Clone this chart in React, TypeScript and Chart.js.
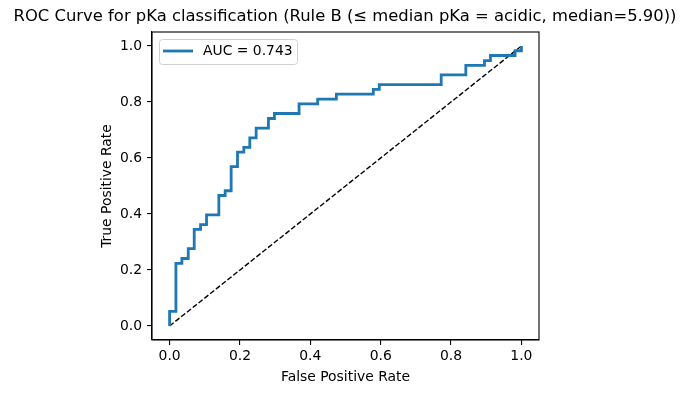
import React, { useEffect, useRef } from "react";
import { Chart, registerables } from "chart.js";

Chart.register(...registerables);

const TITLE = "ROC Curve for pKa classification (Rule B (≤ median pKa = acidic, median=5.90))";
const X_LABEL = "False Positive Rate";
const Y_LABEL = "True Positive Rate";
const LEGEND_LABEL = "AUC = 0.743";
const TICKS = [0, 0.2, 0.4, 0.6, 0.8, 1.0];

// ROC curve vertices
const fpr = [
  0, 0, 0.018, 0.018, 0.035, 0.035, 0.053, 0.053, 0.07, 0.07, 0.088, 0.088, 0.105, 0.105,
  0.14, 0.14, 0.158, 0.158, 0.175, 0.175, 0.193, 0.193, 0.211, 0.211, 0.228, 0.228, 0.246, 0.246,
  0.281, 0.281, 0.298, 0.298, 0.368, 0.368, 0.421, 0.421, 0.474, 0.474, 0.579, 0.579, 0.596, 0.596,
  0.772, 0.772, 0.842, 0.842, 0.895, 0.895, 0.912, 0.912, 0.982, 0.982, 1.0, 1.0,
];
const tpr = [
  0, 0.052, 0.052, 0.224, 0.224, 0.241, 0.241, 0.276, 0.276, 0.345, 0.345, 0.362, 0.362, 0.397,
  0.397, 0.466, 0.466, 0.483, 0.483, 0.569, 0.569, 0.621, 0.621, 0.638, 0.638, 0.672, 0.672, 0.707,
  0.707, 0.741, 0.741, 0.759, 0.759, 0.793, 0.793, 0.81, 0.81, 0.828, 0.828, 0.845, 0.845, 0.862,
  0.862, 0.897, 0.897, 0.931, 0.931, 0.948, 0.948, 0.966, 0.966, 0.983, 0.983, 1.0,
];
const diagX = [0, 1];
const diagY = [0, 1];

const FONT = "'DejaVu Sans', sans-serif";
const BLUE = "#1f77b4";
const SMALL = 13.9;

const decorPlugin = {
  id: "decor",
  afterDraw(chart: any) {
    const { ctx, chartArea } = chart;
    const { left, right, top, bottom } = chartArea;
    ctx.save();
    // frame
    ctx.strokeStyle = "#000";
    ctx.lineWidth = 1.1;
    ctx.strokeRect(left, top, right - left, bottom - top);
    // title
    ctx.fillStyle = "#000";
    ctx.font = `16.4px ${FONT}`;
    ctx.textAlign = "center";
    ctx.textBaseline = "middle";
    ctx.fillText(TITLE, 345, 17);
    // axis titles
    ctx.font = `${SMALL}px ${FONT}`;
    ctx.fillText(X_LABEL, (left + right) / 2, 377);
    ctx.save();
    ctx.translate(107, (top + bottom) / 2);
    ctx.rotate(-Math.PI / 2);
    ctx.fillText(Y_LABEL, 0, 0);
    ctx.restore();
    // legend
    const lx = 159.5, ly = 39.5, lw = 138, lh = 25, r = 3;
    ctx.beginPath();
    ctx.moveTo(lx + r, ly);
    ctx.lineTo(lx + lw - r, ly);
    ctx.quadraticCurveTo(lx + lw, ly, lx + lw, ly + r);
    ctx.lineTo(lx + lw, ly + lh - r);
    ctx.quadraticCurveTo(lx + lw, ly + lh, lx + lw - r, ly + lh);
    ctx.lineTo(lx + r, ly + lh);
    ctx.quadraticCurveTo(lx, ly + lh, lx, ly + lh - r);
    ctx.lineTo(lx, ly + r);
    ctx.quadraticCurveTo(lx, ly, lx + r, ly);
    ctx.closePath();
    ctx.fillStyle = "rgba(255,255,255,0.8)";
    ctx.fill();
    ctx.strokeStyle = "#d0d0d0";
    ctx.lineWidth = 1;
    ctx.stroke();
    ctx.beginPath();
    ctx.strokeStyle = BLUE;
    ctx.lineWidth = 2.8;
    ctx.moveTo(163, 51);
    ctx.lineTo(193, 51);
    ctx.stroke();
    ctx.fillStyle = "#000";
    ctx.textAlign = "left";
    ctx.font = `13.9px ${FONT}`;
    ctx.fillText(LEGEND_LABEL, 203, 51.5);
    ctx.restore();
  },
};

export default function App() {
  const ref = useRef<HTMLCanvasElement>(null);
  useEffect(() => {
    if (!ref.current) return;
    const setTicks = (axis: any) => {
      axis.ticks = TICKS.map((v) => ({ value: v }));
    };
    const chart = new Chart(ref.current, {
      type: "line",
      data: {
        datasets: [
          {
            label: LEGEND_LABEL,
            data: fpr.map((x, i) => ({ x, y: tpr[i] })),
            borderColor: BLUE,
            borderWidth: 2.8,
            pointRadius: 0,
            fill: false,
            tension: 0,
            borderJoinStyle: "miter",
          },
          {
            label: "chance",
            data: diagX.map((x, i) => ({ x, y: diagY[i] })),
            borderColor: "#000",
            borderWidth: 1.4,
            borderDash: [5.2, 2.2],
            pointRadius: 0,
            fill: false,
          },
        ],
      },
      options: {
        responsive: false,
        animation: false,
        layout: { padding: { top: 32, right: 151, bottom: 0, left: 0 } },
        plugins: { legend: { display: false }, tooltip: { enabled: false }, title: { display: false } },
        scales: {
          x: {
            type: "linear",
            min: -0.05,
            max: 1.05,
            afterBuildTicks: setTicks,
            afterFit: (a: any) => {
              a.height = 53;
            },
            grid: { drawOnChartArea: false, drawTicks: true, tickLength: 5, color: "#000", lineWidth: 1.1 },
            border: { display: true, color: "#000", width: 1.1 },
            ticks: {
              color: "#000",
              font: { family: FONT, size: SMALL },
              padding: 3,
              maxRotation: 0,
              callback: (v: any) => Number(v).toFixed(1),
            },
          },
          y: {
            type: "linear",
            min: -0.05,
            max: 1.05,
            afterBuildTicks: setTicks,
            afterFit: (a: any) => {
              a.width = 152;
            },
            grid: { drawOnChartArea: false, drawTicks: true, tickLength: 5, color: "#000", lineWidth: 1.1 },
            border: { display: true, color: "#000", width: 1.1 },
            ticks: {
              color: "#000",
              font: { family: FONT, size: SMALL },
              padding: 5,
              callback: (v: any) => Number(v).toFixed(1),
            },
          },
        },
      },
      plugins: [decorPlugin],
    });
    return () => chart.destroy();
  }, []);
  return (
    <div style={{ position: "fixed", left: 0, top: 0, width: 690, height: 393, background: "#fff" }}>
      <canvas ref={ref} width={690} height={393} />
    </div>
  );
}
